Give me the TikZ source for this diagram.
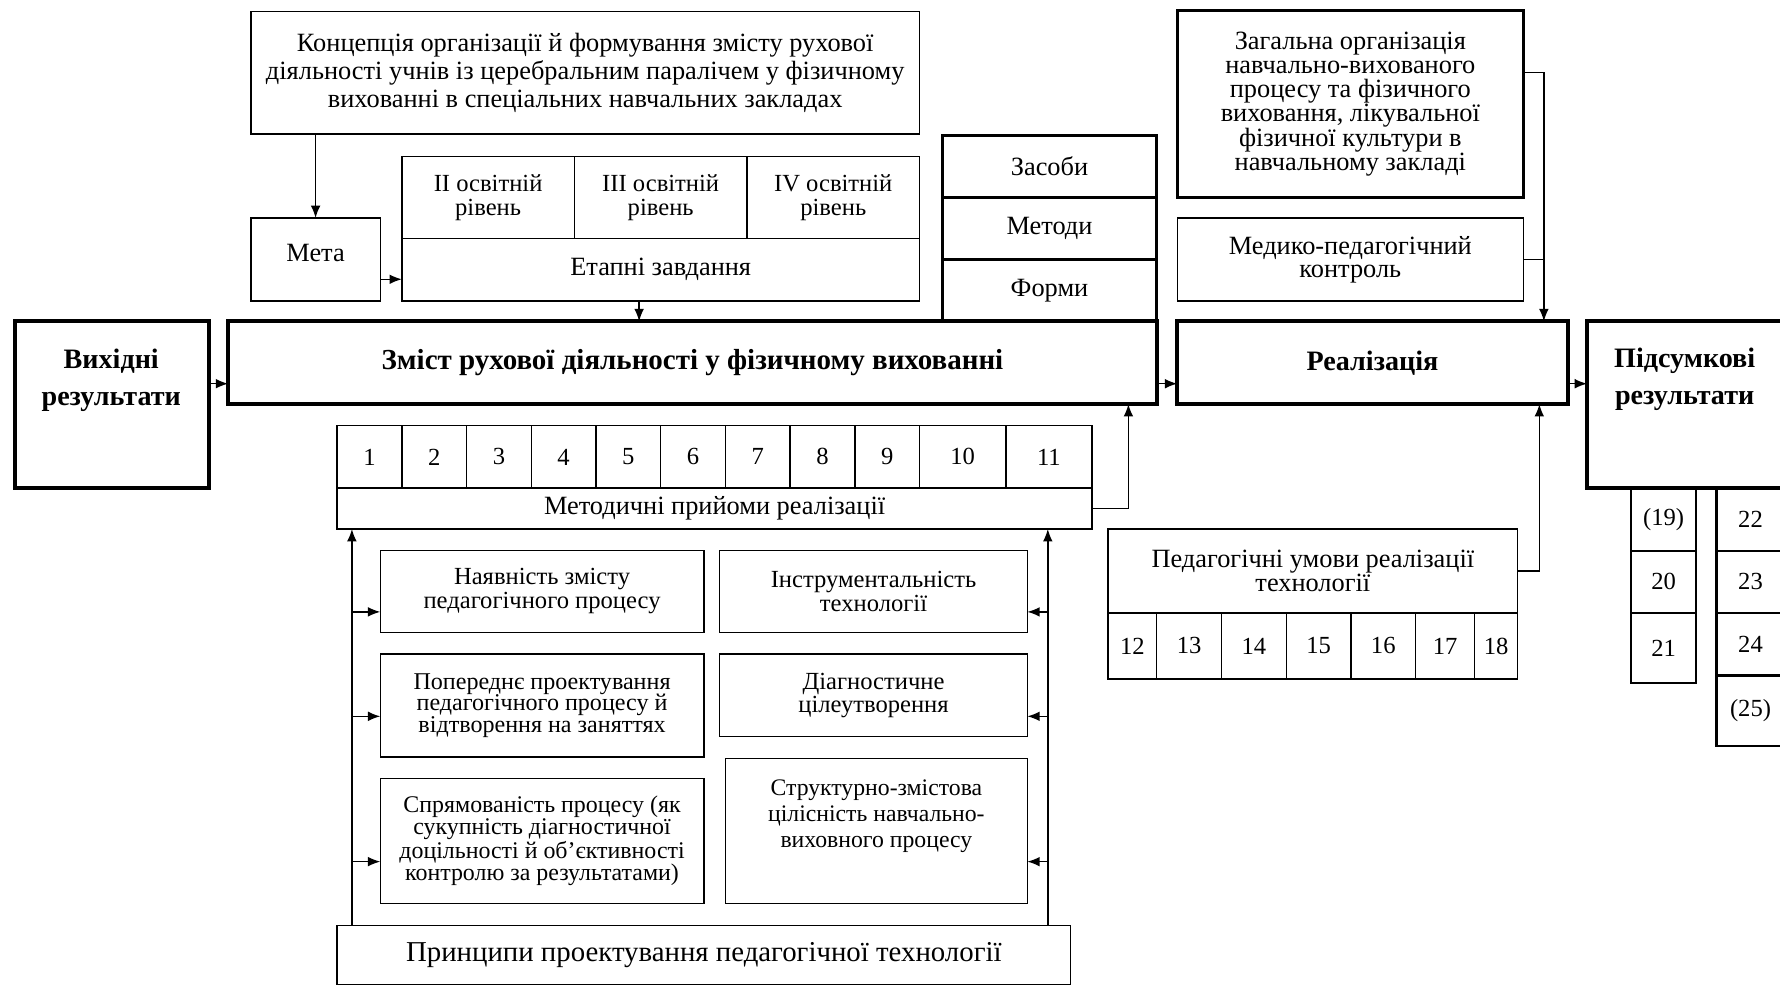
\documentclass[tikz,border=0pt]{standalone}
\usepackage{fontspec}
\setmainfont{Liberation Serif}
\usetikzlibrary{arrows.meta}

\newcommand{\fsz}[2]{\fontsize{#1}{#2}\selectfont}

\tikzset{
	box/.style={draw, line width=0.8pt, inner sep=0pt, outer sep=0pt, anchor=north west, align=center, font=\fsz{14}{13.6}},
	wh/.style 2 args={minimum width=#1*0.0227cm, minimum height=#2*0.0227cm},
	midbox/.style={box, line width=1.7pt, font=\fsz{15}{15}},
	bigbox/.style={box, line width=2.2pt, font=\bfseries\fsz{16}{21}},
	colbox/.style={box, line width=1.2pt},
	btext/.style={align=center, inner sep=0pt, font=\bfseries\fsz{16}{21.3}},
	txt/.style={align=center, inner sep=0pt, font=\fsz{13.5}{14.9}},
	conn/.style={line width=0.8pt, >={Latex[length=7pt,width=5.5pt]}}
}

\begin{document}
\begin{tikzpicture}[x=0.0227cm, y=-0.0227cm]
		
		\clip (0,0) rectangle (1568,869);
		
		% upper part
		\node[box, wh={589}{108}, font=\fsz{15}{15.8}] (concept) at (221,10) {Концепція організації й формування змісту рухової\\ діяльності учнів із церебральним паралічем у фізичному\\ вихованні в спеціальних навчальних закладах};
		\node[box, wh={114}{73}, font=\fsz{15}{15}, text depth=8pt] (meta) at (221,192) {Мета};
		\node[box, wh={152}{72}] (lev2) at (354,138) {II освітній\\ рівень};
		\node[box, wh={152}{72}] (lev3) at (506,138) {III освітній\\ рівень};
		\node[box, wh={152}{72}] (lev4) at (658,138) {IV освітній\\ рівень};
		\node[box, wh={456}{55}, font=\fsz{15}{15}] (etap) at (354,210) {Етапні завдання};
		
		\node[midbox, wh={189}{55}] (zas) at (830,119) {Засоби};
		\node[midbox, wh={189}{55}] (met) at (830,174) {Методи};
		\node[midbox, wh={189}{54}] (form) at (830,229) {Форми};
		
		\node[midbox, wh={305}{165}, font=\fsz{15}{13.8}] (zag) at (1037,9) {Загальна організація\\ навчально-вихованого\\ процесу та фізичного\\ виховання, лікувальної\\ фізичної культури в\\ навчальному закладі};
		\node[box, wh={305}{73}, font=\fsz{15}{13}] (med) at (1037,192) {Медико-педагогічний\\ контроль};
		
		% main row
		\node[bigbox, wh={171}{147}] (vyh) at (13,283) {};
		\node[btext] (vyh-t) at (98,335) {Вихідні\\ результати};
		\node[bigbox, wh={818}{73}, font=\bfseries\fsz{16.5}{18}] (main) at (201,283) {Зміст рухової діяльності у фізичному вихованні};
		\node[bigbox, wh={344}{73}] (real) at (1037,283) {Реалізація};
		\node[bigbox, wh={174}{147}] (pid) at (1398,283) {};
		\node[btext] (pid-t) at (1484,334) {Підсумкові\\ результати};
		
		% methodical techniques
		\node[box, wh={57}{55}] (m1) at (297,375) {1};
		\node[box, wh={57}{55}] (m2) at (354,375) {2};
		\node[box, wh={57}{55}] (m3) at (411,375) {3};
		\node[box, wh={57}{55}] (m4) at (468,375) {4};
		\node[box, wh={57}{55}] (m5) at (525,375) {5};
		\node[box, wh={57}{55}] (m6) at (582,375) {6};
		\node[box, wh={57}{55}] (m7) at (639,375) {7};
		\node[box, wh={57}{55}] (m8) at (696,375) {8};
		\node[box, wh={57}{55}] (m9) at (753,375) {9};
		\node[box, wh={76}{55}] (m10) at (810,375) {10};
		\node[box, wh={76}{55}] (m11) at (886,375) {11};
		\node[box, wh={665}{36}, font=\fsz{15}{15}] (mpr) at (297,430) {Методичні прийоми реалізації};
		
		% principles
		\node[box, wh={285}{72}] (p1) at (335,485) {Наявність змісту\\ педагогічного процесу};
		\node[box, wh={285}{91}, font=\fsz{13.7}{12.4}] (p2) at (335,576) {Попереднє проектування\\ педагогічного процесу й\\ відтворення на заняттях};
		\node[box, wh={285}{110}, font=\fsz{13.6}{12.5}] (p3) at (335,686) {Спрямованість процесу (як\\ сукупність діагностичної\\ доцільності й об’єктивності\\ контролю за результатами)};
		\node[box, wh={271}{72}] (p4) at (634,485) {Інструментальність\\ технології};
		\node[box, wh={271}{73}, font=\fsz{14}{12.9}] (p5) at (634,576) {Діагностичне\\ цілеутворення};
		\node[box, wh={266}{128}] (p6) at (639,668) {};
		\node[txt] (p6-t) at (772,719) {Структурно-змістова\\ цілісність навчально-\\ виховного процесу};
		\node[box, wh={646}{52}, font=\fsz{16.4}{16}] (prin) at (297,815) {Принципи проектування педагогічної технології};
		
		% pedagogical conditions
		\node[box, wh={361}{74}, font=\fsz{15}{13.6}] (ped) at (976,466) {Педагогічні умови реалізації\\ технології};
		\node[box, wh={43}{58}] (c12) at (976,540) {12};
		\node[box, wh={57}{58}] (c13) at (1019,540) {13};
		\node[box, wh={57}{58}] (c14) at (1076,540) {14};
		\node[box, wh={57}{58}] (c15) at (1133,540) {15};
		\node[box, wh={57}{58}] (c16) at (1190,540) {16};
		\node[box, wh={52}{58}] (c17) at (1247,540) {17};
		\node[box, wh={38}{58}] (c18) at (1299,540) {18};
		
		% final results
		\node[colbox, wh={57}{55}] (r19) at (1437,430) {(19)};
		\node[colbox, wh={57}{55}] (r20) at (1437,485) {20};
		\node[colbox, wh={57}{62}] (r21) at (1437,540) {21};
		\node[colbox, wh={60}{55}] (r22) at (1512,430) {22};
		\node[colbox, wh={60}{55}] (r23) at (1512,485) {23};
		\node[colbox, wh={60}{55}] (r24) at (1512,540) {24};
		\node[colbox, wh={60}{62}] (r25) at (1512,595) {(25)};
		
		% connector positions
		\coordinate (my) at (0,246);
		\coordinate (ay) at (0,338);
		\coordinate (zy) at (0,64);
		\coordinate (ex) at (563,0);
		\coordinate (mx) at (994,0);
		\coordinate (zx) at (1360,0);
		\coordinate (px) at (1356,0);
		\coordinate (lx) at (310,0);
		\coordinate (rx) at (923,0);
		\coordinate (y1) at (0,539);
		\coordinate (y2) at (0,631);
		\coordinate (y3) at (0,759);
		
		\draw[conn, ->] (concept.south -| meta) -- (meta.north);
		\draw[conn, ->] (meta.east |- my) -- (etap.west |- my);
		\draw[conn, ->] (etap.south -| ex) -- (main.north -| ex);
		\draw[conn, ->] (vyh.east |- ay) -- (main.west |- ay);
		\draw[conn, ->] (main.east |- ay) -- (real.west |- ay);
		\draw[conn, ->] (real.east |- ay) -- (pid.west |- ay);
		\draw[conn, ->] (zag.east |- zy) -| (real.north -| zx);
		\draw[conn] (med.east) -- (med.east -| zx);
		\draw[conn, ->] (mpr.east) -| (main.south -| mx);
		\draw[conn, ->] (ped.east) -| (real.south -| px);
		\draw[conn, ->] (prin.north -| lx) -- (mpr.south -| lx);
		\draw[conn, ->] (prin.north -| rx) -- (mpr.south -| rx);
		\draw[conn, ->] (lx |- y1) -- (p1.west |- y1);
		\draw[conn, ->] (lx |- y2) -- (p2.west |- y2);
		\draw[conn, ->] (lx |- y3) -- (p3.west |- y3);
		\draw[conn, ->] (rx |- y1) -- (p4.east |- y1);
		\draw[conn, ->] (rx |- y2) -- (p5.east |- y2);
		\draw[conn, ->] (rx |- y3) -- (p6.east |- y3);
		
\end{tikzpicture}
\end{document}
